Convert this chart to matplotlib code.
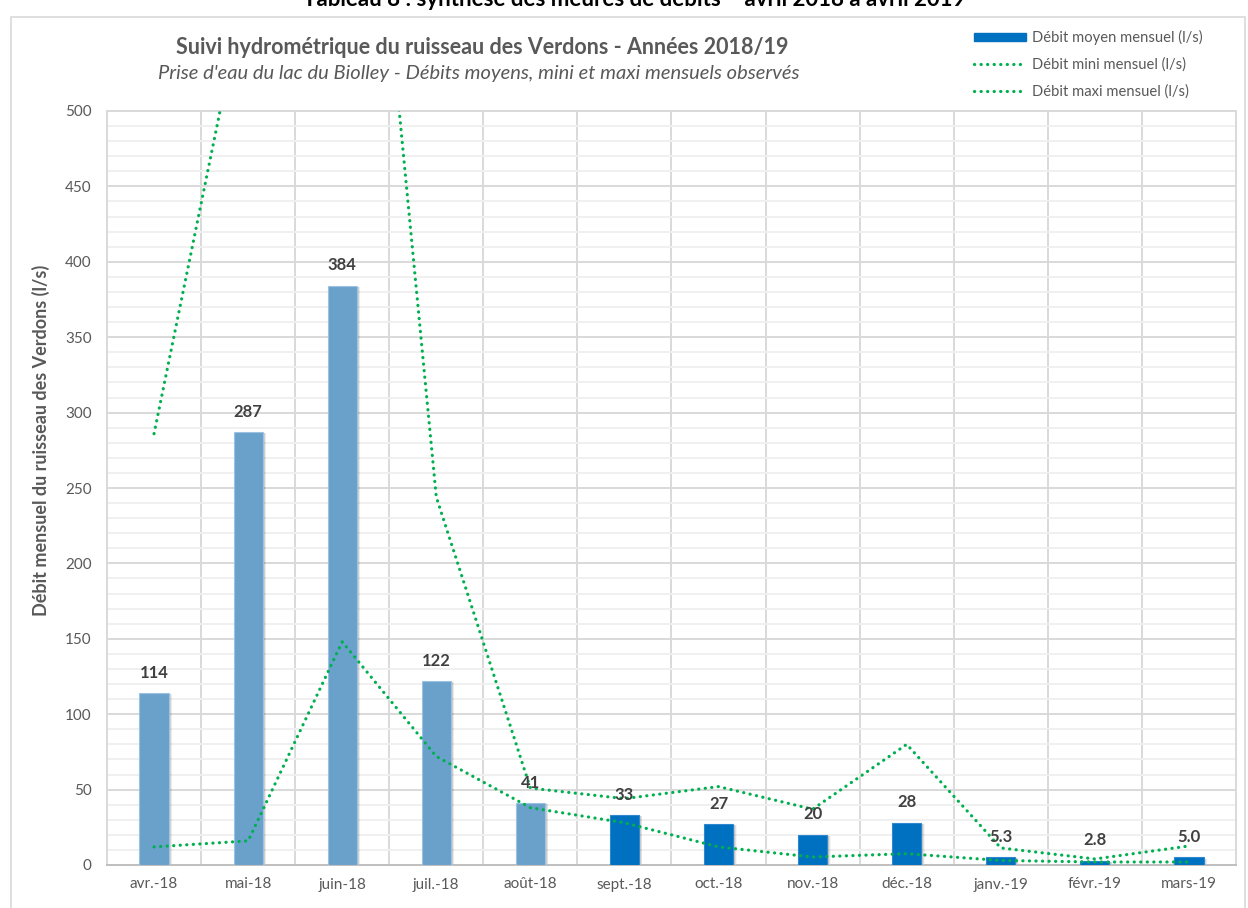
import numpy as np
import matplotlib
matplotlib.use("Agg")
import matplotlib.pyplot as plt
from matplotlib.patches import Rectangle, Patch
from matplotlib.lines import Line2D

plt.rcParams['font.family'] = ['Lato', 'DejaVu Sans']

# --- data -------------------------------------------------------------
months = ["avr.-18", "mai-18", "juin-18", "juil.-18", "août-18", "sept.-18",
          "oct.-18", "nov.-18", "déc.-18", "janv.-19", "févr.-19", "mars-19"]
debit_moyen = [114, 287, 384, 122, 41, 33, 27, 20, 28, 5.3, 2.8, 5.0]
debit_mini = [12, 16, 148, 72, 38, 28, 12, 5.3, 7.5, 3, 2, 2]
debit_maxi = [286, 591, 894, 244, 51, 44, 52, 37, 80, 11.3, 4, 12.6]

W, H = 1248, 908
fig = plt.figure(figsize=(W / 100, H / 100), dpi=100)

# plot area in pixel terms
left, right, top, bottom = 107, 1236, 111, 865
ax = fig.add_axes([left / W, 1 - bottom / H, (right - left) / W, (bottom - top) / H])

x = np.arange(len(months))
grey_txt = '#595959'

# soft drop shadow behind the bars
px = 1.0 / (right - left) * len(months)          # one pixel in category units
py = 500.0 / (bottom - top)                        # one pixel in value units
for k in range(1, 7):
    ax.bar(x + 0.4 * k * px + 1 * px, np.array(debit_moyen) - 1.2 * py, width=0.31,
           color='black', alpha=0.04, zorder=2, linewidth=0)

bar_colors = ['#6aa1cb' if i < 5 else '#0070c0' for i in range(len(months))]
edge_colors = ['#9cc2e3' if i < 5 else '#2f87cf' for i in range(len(months))]
bars = ax.bar(x, debit_moyen, width=0.31, color=bar_colors, edgecolor=edge_colors,
              linewidth=0.8, zorder=3)

for xi, v in zip(x, debit_moyen):
    txt = f"{v:.1f}" if v < 10 else f"{v:.0f}"
    ax.annotate(txt, (xi, v), xytext=(0, 9), textcoords='offset points',
                ha='center', va='bottom', fontsize=12, fontweight='bold',
                color='#404040', zorder=6)

dot_style = dict(color='#00b050', lw=2.3, ls=(0, (0.05, 2.0)),
                 dash_capstyle='round', zorder=5)
ax.plot(x, debit_mini, **dot_style)
ax.plot(x, debit_maxi, **dot_style)

# axes, grid and ticks
ax.set_xlim(-0.5, len(months) - 0.5)
ax.set_ylim(0, 500)
ax.set_yticks(np.arange(0, 501, 50))
ax.set_yticks(np.arange(0, 501, 10), minor=True)
ax.set_xticks(x)
ax.set_xticklabels(months)
ax.set_xticks(np.arange(0.5, len(months) - 1, 1), minor=True)
ax.grid(True, axis='y', which='minor', color='#f0f0f0', lw=1.4, zorder=0)
ax.grid(True, axis='y', which='major', color='#d9d9d9', lw=1.4, zorder=0)
ax.grid(True, axis='x', which='minor', color='#d9d9d9', lw=1.4, zorder=0)
ax.set_axisbelow(True)
ax.tick_params(which='both', length=0)
ax.tick_params(axis='y', pad=11, labelsize=11, labelcolor=grey_txt)
ax.tick_params(axis='x', pad=9, labelsize=11, labelcolor=grey_txt)
for s in ax.spines.values():
    s.set_color('#d9d9d9')
    s.set_linewidth(1.4)
ax.spines['bottom'].set_color('#bfbfbf')

ax.set_ylabel("Débit mensuel du ruisseau des Verdons (l/s)", fontsize=13,
              fontweight='bold', color=grey_txt)
ax.yaxis.set_label_coords((50 - left) / (right - left), (bottom - 440) / (bottom - top))

# titles
fig.text(482 / W, 1 - 47 / H, "Suivi hydrométrique du ruisseau des Verdons - Années 2018/19",
         ha='center', va='center', fontsize=15.5, fontweight='bold', color=grey_txt)
fig.text(479 / W, 1 - 73 / H,
         "Prise d'eau du lac du Biolley - Débits moyens, mini et maxi mensuels observés",
         ha='center', va='center', fontsize=14.5, style='italic', color=grey_txt)
fig.text(634 / W, 1 - 6 / H,
         "Tableau 8 : synthèse des meures de débits – avril 2018 à avril 2019",
         ha='center', va='baseline', fontsize=16, fontweight='bold', color='black')

# legend
line_kw = {k: v for k, v in dot_style.items() if k != 'zorder'}
handles = [Patch(facecolor='#0070c0', edgecolor='#0070c0'),
           Line2D([], [], **line_kw),
           Line2D([], [], **line_kw)]
labels = ["Débit moyen mensuel (l/s)", "Débit mini mensuel (l/s)", "Débit maxi mensuel (l/s)"]
leg = fig.legend(handles, labels, loc='upper left',
                 bbox_to_anchor=(974 / W, 1 - 30 / H), frameon=False,
                 fontsize=10.6, handlelength=3.5, handleheight=0.5,
                 handletextpad=0.45, labelspacing=0.85, borderaxespad=0, borderpad=0)
for t in leg.get_texts():
    t.set_color(grey_txt)

# outer chart frame
fig.add_artist(Rectangle((11 / W, -0.01), (1245 - 11) / W, (1 - 17 / H) + 0.01,
                         transform=fig.transFigure, fill=False,
                         edgecolor='#d9d9d9', lw=1.2))

fig.savefig("out.png", dpi=100)
